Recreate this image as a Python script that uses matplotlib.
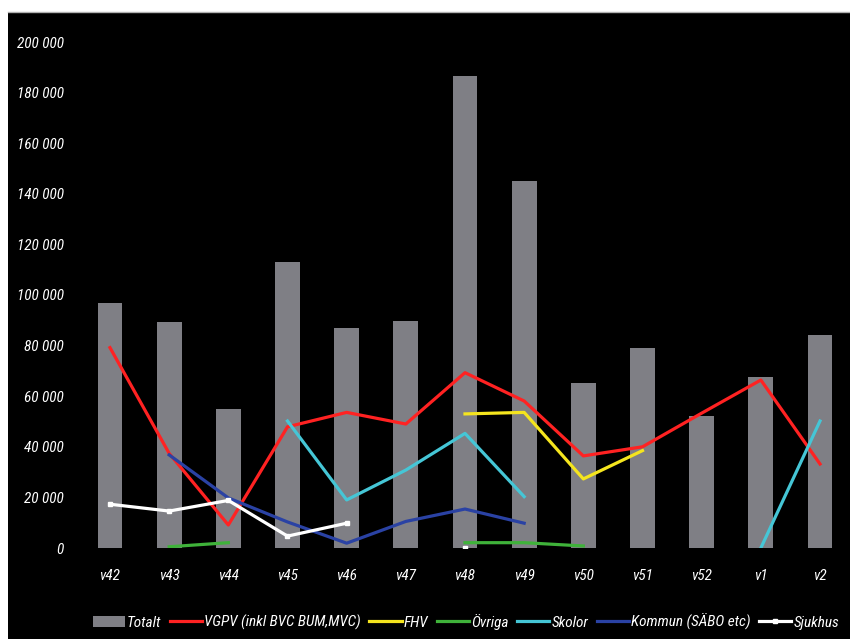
import matplotlib
matplotlib.use("Agg")
import matplotlib.pyplot as plt
from matplotlib import font_manager
from matplotlib.patches import Rectangle
from matplotlib.lines import Line2D
import numpy as np

nan = np.nan

weeks = ['v42', 'v43', 'v44', 'v45', 'v46', 'v47', 'v48', 'v49', 'v50', 'v51', 'v52', 'v1', 'v2']

totalt = [97000, 89500, 55000, 113000, 86800, 89800, 186600, 145000, 65100, 79000, 52200, 67500, 84200]
vgpv = [79200, 37400, 9100, 47900, 53600, 49000, 69300, 58100, 36400, 40000, 53300, 66400, 33200]
fhv = [nan, nan, nan, nan, nan, nan, 53000, 53600, 27300, 38500, nan, nan, nan]
ovriga = [nan, 500, 2100, nan, nan, nan, 2100, 2100, 800, nan, nan, nan, nan]
skolor = [nan, nan, nan, 50200, 19000, 30800, 45300, 20300, nan, nan, nan, 0, 50200]
kommun = [nan, 36800, 19800, 10300, 1900, 10500, 15400, 9800, nan, nan, nan, nan, nan]
sjukhus = [17300, 14600, 18800, 4700, 9800, nan, 0, nan, nan, nan, nan, nan, nan]

series = [
    ('VGPV (inkl BVC BUM,MVC)', vgpv, '#ff2222'),
    ('FHV', fhv, '#f5e51e'),
    ('Övriga', ovriga, '#3fb23a'),
    ('Skolor', skolor, '#45c6d6'),
    ('Kommun (SÄBO etc)', kommun, '#2a42a4'),
    ('Sjukhus', sjukhus, '#ffffff'),
]

# pick a narrow font if one is installed
installed = {f.name for f in font_manager.fontManager.ttflist}
narrow = 'DejaVu Sans'
for cand in ['Liberation Sans Narrow', 'Arial Narrow', 'Roboto Condensed',
             'DejaVu Sans Condensed', 'Liberation Sans']:
    if cand in installed:
        narrow = cand
        break
plt.rcParams['font.family'] = [narrow, 'DejaVu Sans']
plt.rcParams['font.style'] = 'italic'

fig = plt.figure(figsize=(8.5, 6.39), dpi=100, facecolor='white')
fig.patches.append(Rectangle((8/850, 0), 1, 1 - 12/639, transform=fig.transFigure,
                             facecolor='black', edgecolor='none', zorder=-10))
fig.lines.append(Line2D([8/850, 1], [1 - 12/639, 1 - 12/639], transform=fig.transFigure,
                        color='#b0b0b0', lw=1, zorder=-9))

ax = fig.add_axes([80.4/850, 1 - 548/639, (849.6 - 80.4)/850, (548 - 42)/639])
ax.set_facecolor('none')

x = np.arange(len(weeks))
bars = ax.bar(x, totalt, width=0.42, color='#7f7f85', label='Totalt', zorder=1)

handles = [bars]
for name, vals, col in series:
    if name == 'Sjukhus':
        ln, = ax.plot(x, vals, color=col, lw=2.3, marker='s', markersize=3, label=name, zorder=2)
    else:
        ln, = ax.plot(x, vals, color=col, lw=2.3, label=name, zorder=2)
    handles.append(ln)

ax.set_xlim(-0.5, len(weeks) - 0.5)
ax.set_ylim(0, 200000)
ax.set_yticks(np.arange(0, 200001, 20000))
ax.set_yticklabels([f'{v:,}'.replace(',', ' ') for v in range(0, 200001, 20000)])
ax.set_xticks(x)
ax.set_xticklabels(weeks)
for s in ax.spines.values():
    s.set_visible(False)
ax.tick_params(axis='both', length=0, colors='white', labelsize=11)
ax.tick_params(axis='y', pad=12)
ax.tick_params(axis='x', pad=15)

labels = ['Totalt'] + [s[0] for s in series]
leg = fig.legend(handles, labels, loc='center', bbox_to_anchor=(466/850, 1 - 622/639),
                 ncol=7, frameon=False, fontsize=11, handlelength=2.1,
                 handletextpad=0.15, columnspacing=0.55)
for t in leg.get_texts():
    t.set_color('white')

plt.savefig('out.png', dpi=100, facecolor=fig.get_facecolor())
